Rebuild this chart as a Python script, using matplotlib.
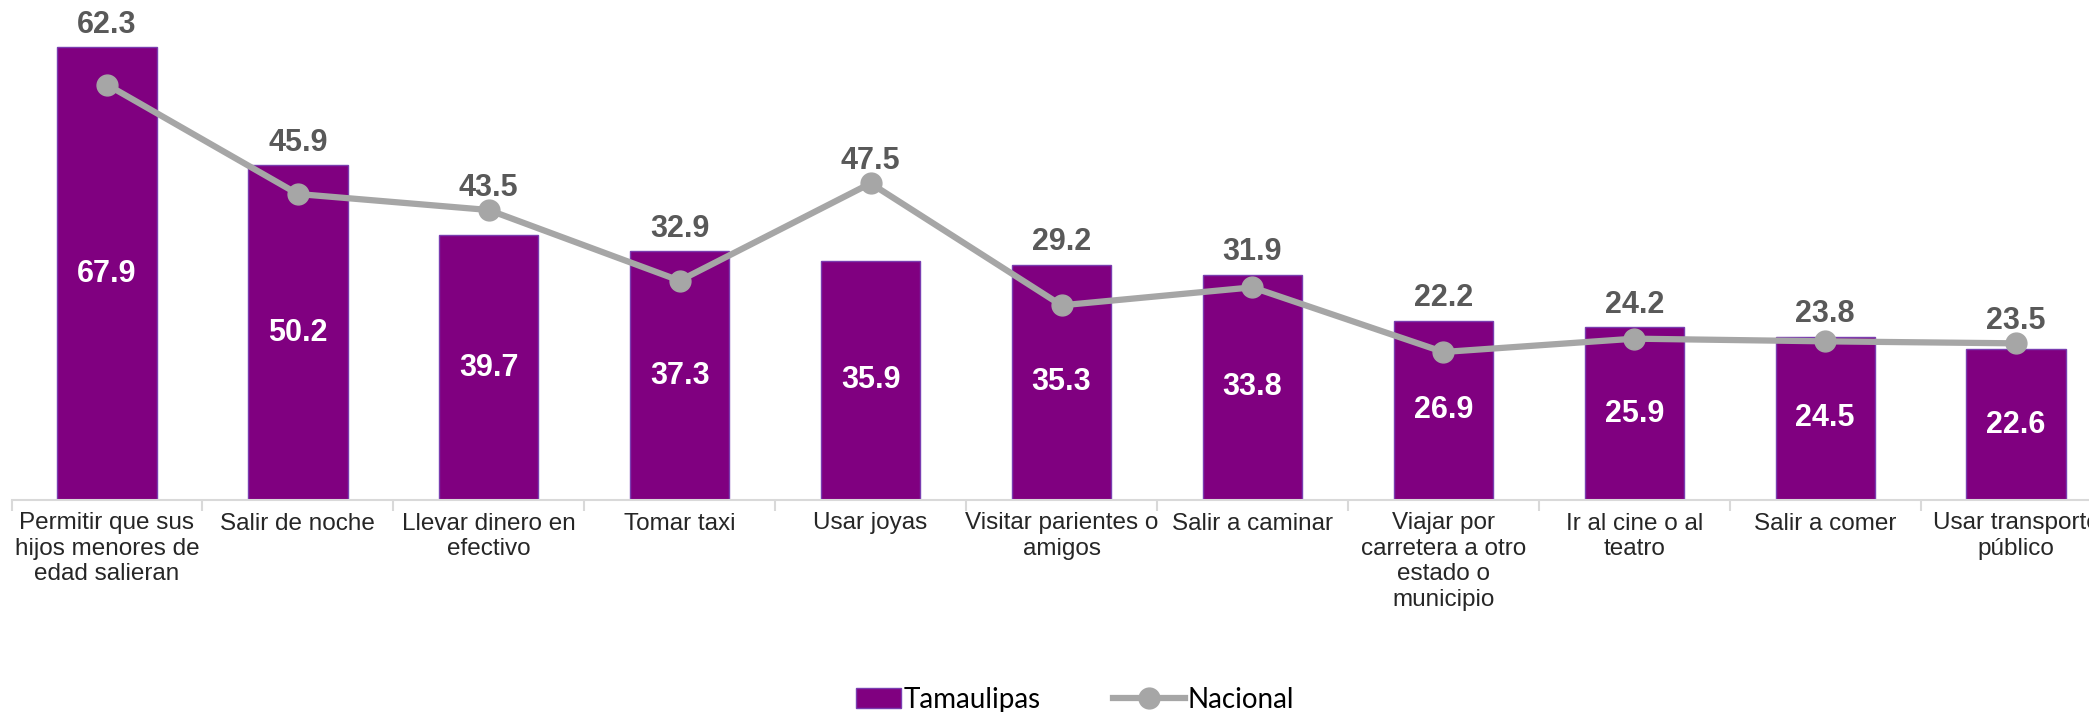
import matplotlib.pyplot as plt
import matplotlib.patches as mpatches
from matplotlib.legend_handler import HandlerPatch
import numpy as np

# datos
categorias = [
    "Permitir que sus\nhijos menores de\nedad salieran",
    "Salir de noche",
    "Llevar dinero en\nefectivo",
    "Tomar taxi",
    "Usar joyas",
    "Visitar parientes o\namigos",
    "Salir a caminar",
    "Viajar por\ncarretera a otro\nestado o\nmunicipio",
    "Ir al cine o al\nteatro",
    "Salir a comer",
    "Usar transporte\npúblico",
]
tamaulipas = [67.9, 50.2, 39.7, 37.3, 35.9, 35.3, 33.8, 26.9, 25.9, 24.5, 22.6]
nacional = [62.3, 45.9, 43.5, 32.9, 47.5, 29.2, 31.9, 22.2, 24.2, 23.8, 23.5]

morado = "#800080"
gris = "#A6A6A6"

plt.rcParams["font.family"] = ["Liberation Sans", "DejaVu Sans"]


def cuadro_angosto(legend, orig_handle, xdescent, ydescent, width, height, fontsize):
    # el cuadro de la leyenda es mas angosto que la linea
    w = width * 0.62
    return mpatches.Rectangle((width - w - xdescent, -ydescent), w, height)


fig = plt.figure(figsize=(20.89, 7.12), dpi=100)
# el eje sigue mas alla del borde derecho (la imagen original esta recortada)
ax = fig.add_axes([11.5 / 2089, 212 / 712, 2100 / 2089, 500 / 712])

x = np.arange(len(categorias))
barras = ax.bar(x, tamaulipas, width=0.52, color=morado, edgecolor="#7A3DB0",
                linewidth=1, label="Tamaulipas", zorder=2)
linea, = ax.plot(x, nacional, color=gris, lw=4.5, marker="o", ms=15,
                 label="Nacional", zorder=3)

# etiquetas blancas dentro de las barras
for xi, v in zip(x, tamaulipas):
    ax.text(xi, v / 2, f"{v:.1f}", ha="center", va="center", color="white",
            fontsize=22, fontweight="bold", zorder=4)

# etiquetas nacionales arriba
for xi, v, t in zip(x, nacional, tamaulipas):
    ax.annotate(f"{v:.1f}", (xi, max(v, t)), xytext=(0, 16),
                textcoords="offset points", ha="center", va="center",
                color="#595959", fontsize=22, fontweight="bold", zorder=4)

ax.set_xlim(-0.5, len(categorias) - 0.5)
ax.set_ylim(0, 75)

for s in ["top", "right", "left"]:
    ax.spines[s].set_visible(False)
ax.spines["bottom"].set_color("#D9D9D9")
ax.spines["bottom"].set_linewidth(1.5)
ax.set_yticks([])

ax.set_xticks(x)
ax.set_xticklabels(categorias, fontsize=17.5, color="#262626", linespacing=1.2)
ax.tick_params(axis="x", which="major", length=0, pad=9)
ax.set_xticks(np.arange(-0.5, len(categorias), 1), minor=True)
ax.tick_params(axis="x", which="minor", length=8, width=1.5, color="#D9D9D9")

cuadro = barras.patches[0]
fig.legend([cuadro, linea], ["Tamaulipas", "Nacional"], loc="center",
           bbox_to_anchor=(0.508, 0.017), ncol=2, frameon=False,
           prop={"family": "Lato", "size": 20}, columnspacing=2.6,
           handlelength=2.6, handletextpad=0.1,
           handler_map={cuadro: HandlerPatch(patch_func=cuadro_angosto)})

fig.savefig("out.png", dpi=100)
